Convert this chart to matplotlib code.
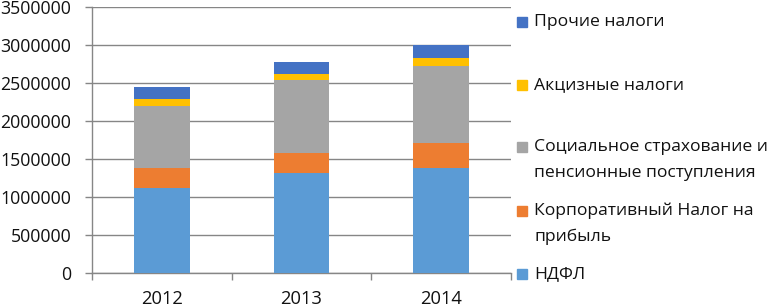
import matplotlib
matplotlib.use("Agg")
import matplotlib.pyplot as plt
import numpy as np

years = ["2012", "2013", "2014"]
series_names = ["НДФЛ", "Корпоративный Налог на\nприбыль",
                "Социальное страхование и\nпенсионные поступления",
                "Акцизные налоги", "Прочие налоги"]
ndfl = [1120000, 1315000, 1380000]
corp = [260000, 272000, 330000]
social = [820000, 956000, 1018000]
excise = [93000, 70000, 96000]
other = [154000, 158000, 176000]
colors = ["#5B9BD5", "#ED7D31", "#A5A5A5", "#FFC000", "#4472C4"]
yticks = [0, 500000, 1000000, 1500000, 2000000, 2500000, 3000000, 3500000]

plt.rcParams['font.family'] = ['Open Sans', 'DejaVu Sans']

fig = plt.figure(figsize=(7.71, 3.07), dpi=100)
ax = fig.add_axes([92/771, 1-273.3/307, (511-92)/771, (273.3-7)/307])

x = np.arange(len(years))
data = [ndfl, corp, social, excise, other]
bottom = np.zeros(len(years))
for vals, col, name in zip(data, colors, series_names):
    ax.bar(x, vals, width=0.4, bottom=bottom, color=col, label=name, zorder=3)
    bottom += np.array(vals)

ax.set_xlim(-0.5, 2.5)
ax.set_ylim(0, 3500000)
ax.set_yticks(yticks)
ax.set_yticklabels([str(v) for v in yticks], fontsize=12.8, color="#111111")
ax.yaxis.grid(True, color="#868686", linewidth=1, zorder=0)
ax.set_xticks(x)
ax.set_xticklabels(years, fontsize=13.2, color="#111111")
ax.set_xticks([-0.5, 0.5, 1.5, 2.5], minor=True)
ax.tick_params(axis='x', which='major', length=0, pad=12)
ax.tick_params(axis='x', which='minor', length=5, color="#868686", width=1)
ax.tick_params(axis='y', length=5, color="#868686", width=1, pad=10)
for s in ["top", "right"]:
    ax.spines[s].set_visible(False)
for s in ["left", "bottom"]:
    ax.spines[s].set_color("#868686")
    ax.spines[s].set_linewidth(1)

# legend (reversed order, top = Прочие налоги)
ypos = [274, 210.7, 146.7, 85, 21.7]
for yp, col, name in zip(ypos, colors, series_names):
    fy = 1 - yp/307
    fig.patches.append(matplotlib.patches.Rectangle((517/771, fy - 5/307), 10/771, 10/307,
                       transform=fig.transFigure, color=col, figure=fig))
    for i, line in enumerate(name.split("\n")):
        fig.text(534/771, 1 - (yp + 26.5*i)/307, line, fontsize=12.6,
                 va="center", ha="left", color="#111111")

fig.savefig("out.png", dpi=100)
